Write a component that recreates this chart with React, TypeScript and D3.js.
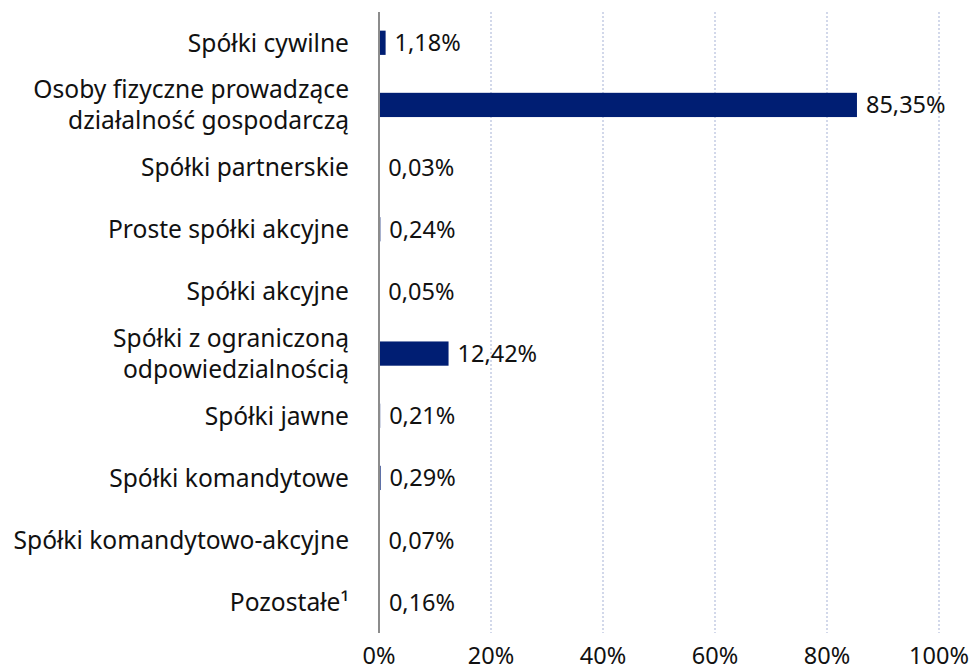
import React, { useEffect, useRef } from 'react'
import * as d3 from 'd3'

const categories = [
  ['Spółki cywilne'],
  ['Osoby fizyczne prowadzące', 'działalność gospodarczą'],
  ['Spółki partnerskie'],
  ['Proste spółki akcyjne'],
  ['Spółki akcyjne'],
  ['Spółki z ograniczoną', 'odpowiedzialnością'],
  ['Spółki jawne'],
  ['Spółki komandytowe'],
  ['Spółki komandytowo-akcyjne'],
  ['Pozostałe¹'],
]
const values = [1.18, 85.35, 0.03, 0.24, 0.05, 12.42, 0.21, 0.29, 0.07, 0.16]
const tickValues = [0, 20, 40, 60, 80, 100]

export default function App() {
  const ref = useRef<SVGSVGElement>(null)

  useEffect(() => {
    const width = 970
    const height = 670
    const margin = { top: 12, right: 31, bottom: 37, left: 379 }
    const font = '"Noto Sans", sans-serif'
    const catSize = 24.6
    const valSize = 23.5

    const svg = d3.select(ref.current)
    svg.selectAll('*').remove()

    const x = d3.scaleLinear().domain([0, 100]).range([margin.left, width - margin.right])
    const y = d3.scaleBand()
      .domain(categories.map((_, i) => String(i)))
      .range([margin.top, height - margin.bottom])
      .paddingInner(0.61)
      .paddingOuter(0.3)

    // dotted grid
    svg.append('g')
      .selectAll('line')
      .data(tickValues.slice(1))
      .enter().append('line')
      .attr('x1', d => x(d)).attr('x2', d => x(d))
      .attr('y1', margin.top).attr('y2', height - margin.bottom)
      .attr('stroke', '#c3cbe3')
      .attr('stroke-width', 1.5)
      .attr('stroke-dasharray', '2,2')

    // bars
    svg.append('g')
      .selectAll('rect')
      .data(values)
      .enter().append('rect')
      .attr('x', x(0))
      .attr('y', (_, i) => y(String(i))!)
      .attr('width', d => x(d) - x(0))
      .attr('height', y.bandwidth())
      .attr('fill', '#001e73')

    // axis line
    svg.append('line')
      .attr('x1', x(0)).attr('x2', x(0))
      .attr('y1', margin.top).attr('y2', height - margin.bottom)
      .attr('stroke', '#8c8c8c').attr('stroke-width', 2)

    // value labels
    svg.append('g')
      .selectAll('text')
      .data(values)
      .enter().append('text')
      .attr('x', d => x(d) + 9)
      .attr('y', (_, i) => y(String(i))! + y.bandwidth() / 2)
      .attr('dy', '0.36em')
      .attr('font-family', font)
      .attr('font-size', valSize)
      .attr('fill', '#111')
      .text(d => d.toFixed(2).replace('.', ',') + '%')

    // category labels, one text per line
    const lineH = 31
    const catLines = categories.flatMap((lines, i) =>
      lines.map((l, j) => ({ l, i, off: (j - (lines.length - 1) / 2) * lineH })))
    svg.append('g')
      .selectAll('text')
      .data(catLines)
      .enter().append('text')
      .attr('x', x(0) - 30)
      .attr('y', d => y(String(d.i))! + y.bandwidth() / 2 + d.off)
      .attr('dy', '0.36em')
      .attr('text-anchor', 'end')
      .attr('font-family', font)
      .attr('font-size', catSize)
      .attr('fill', '#111')
      .text(d => d.l)

    // x tick labels
    svg.append('g')
      .selectAll('text')
      .data(tickValues)
      .enter().append('text')
      .attr('x', d => x(d))
      .attr('y', 664)
      .attr('text-anchor', 'middle')
      .attr('font-family', font)
      .attr('font-size', valSize)
      .attr('fill', '#111')
      .text(d => d + '%')
  }, [])

  return (
    <svg ref={ref} width={970} height={670}
      style={{ position: 'absolute', left: 0, top: 0, background: '#fff' }} />
  )
}
